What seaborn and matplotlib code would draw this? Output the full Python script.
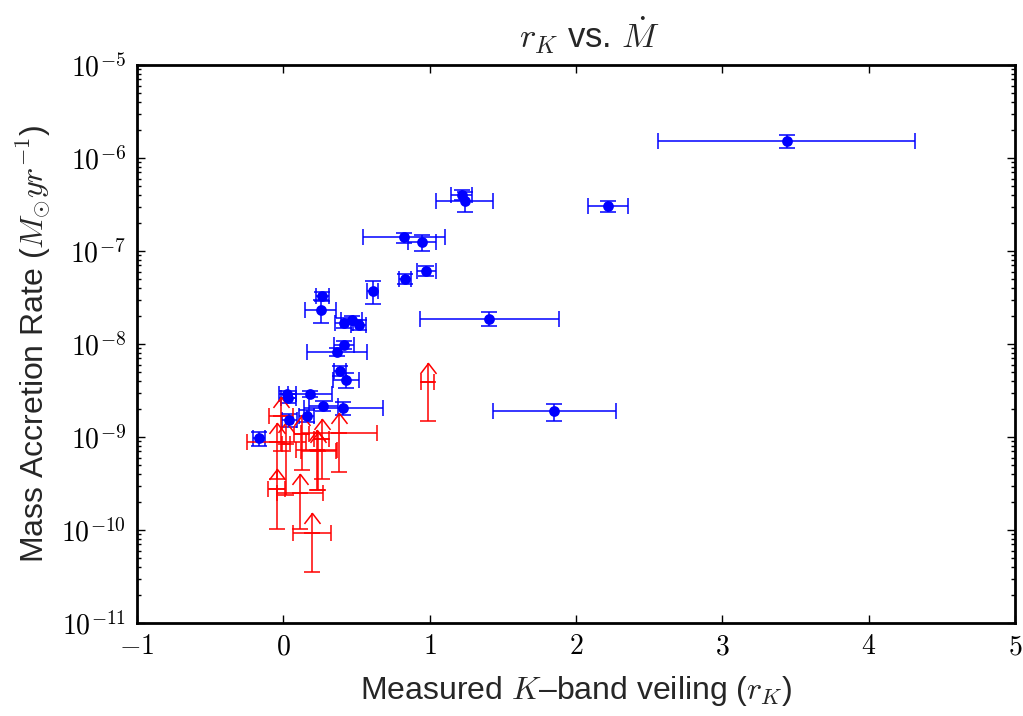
import numpy as np
import pandas as pd
import matplotlib
matplotlib.use("Agg")
import matplotlib.pyplot as plt
import matplotlib.ticker as mticker
from matplotlib.path import Path
import seaborn as sns

# ---- data ----
blue_x = [3.44, 2.22, 1.22, 1.24, 0.825, 0.949, 0.976, 0.83, 0.611, 0.267, 0.255,
          0.415, 0.467, 0.515, 0.415, 0.369, 0.387, 0.429, 0.027, 0.034, 0.182,
          0.273, 0.41, 0.16, 0.041, -0.166, 1.408, 1.852]
blue_y = [1.52e-6, 3.05e-7, 4.0e-7, 3.48e-7, 1.40e-7, 1.24e-7, 6.14e-8, 5.03e-8,
          3.74e-8, 3.28e-8, 2.32e-8, 1.70e-8, 1.81e-8, 1.60e-8, 9.76e-9, 8.26e-9,
          5.16e-9, 4.10e-9, 2.88e-9, 2.6e-9, 2.88e-9, 2.17e-9, 2.07e-9, 1.69e-9,
          1.52e-9, 9.68e-10, 1.87e-8, 1.89e-9]
blue_xerr = [0.88, 0.135, 0.072, 0.195, 0.28, 0.095, 0.065, 0.04, 0.036, 0.045, 0.108,
             0.06, 0.07, 0.05, 0.07, 0.206, 0.04, 0.09, 0.06, 0.05, 0.15, 0.1, 0.27,
             0.05, 0.05, 0.04, 0.475, 0.418]
blue_yerr = [2.3e-7, 4.3e-8, 4.8e-8, 8.7e-8, 1.7e-8, 2.5e-8, 8e-9, 6e-9, 1.05e-8,
             3.6e-9, 6.5e-9, 2e-9, 1.8e-9, 1.9e-9, 9e-10, 8e-10, 6e-10, 7.5e-10,
             2.8e-10, 3e-10, 2.2e-10, 2.5e-10, 3.3e-10, 2.4e-10, 2.4e-10, 1.7e-10,
             3.2e-9, 4e-10]

red_x = [0.987, -0.016, -0.045, 0.018, 0.126, 0.262, 0.229, 0.238, 0.383, -0.045, 0.114, 0.196]
red_y = [3.9e-9, 1.7e-9, 8.8e-10, 8.5e-10, 1.08e-9, 9.5e-10, 7.3e-10, 7.0e-10,
         1.11e-9, 2.76e-10, 2.53e-10, 9.3e-11]
red_xerr = [0.043, 0.085, 0.2, 0.03, 0.05, 0.05, 0.14, 0.12, 0.26, 0.057, 0.16, 0.13]
red_yerr = [2.4e-9, 1.0e-9, 5.3e-10, 6.1e-10, 6.4e-10, 6.0e-10, 4.6e-10, 4.3e-10,
            6.9e-10, 1.74e-10, 1.5e-10, 5.8e-11]

x_ticks = [-1, 0, 1, 2, 3, 4, 5]
y_ticks = [1e-11, 1e-10, 1e-9, 1e-8, 1e-7, 1e-6, 1e-5]

title = r"$r_K$ vs. $\dot{M}$"
xlabel = "Measured $K$\u2013band veiling ($r_K$)"
ylabel = r"Mass Accretion Rate ($M_{\odot} yr^{-1}$)"

# ---- style ----
sns.set_theme(style="ticks")
plt.rcParams["font.family"] = ["Liberation Sans", "DejaVu Sans"]
plt.rcParams["mathtext.fontset"] = "cm"

fig = plt.figure(figsize=(10.23, 7.16), dpi=100)
ax = fig.add_axes([137 / 1023, 1 - 623 / 716, (1015 - 137) / 1023, (623 - 65) / 716])

blue_df = pd.DataFrame({"x": blue_x, "y": blue_y})
bx = np.array(blue_x); by = np.array(blue_y)
rx = np.array(red_x); ry = np.array(red_y)
rxe = np.array(red_xerr); rye = np.array(red_yerr)

# blue detections
ax.errorbar(bx, by, xerr=blue_xerr, yerr=blue_yerr, fmt="none", ecolor="blue",
            elinewidth=1.1, capsize=5.8, capthick=1.1, zorder=2)
sns.scatterplot(data=blue_df, x="x", y="y", ax=ax, color="blue", s=60,
                edgecolor="blue", linewidth=0, zorder=3, legend=False)

# open chevron marker with its apex at the data point (lower-limit arrow head)
chevron = Path([(-1.0, -1.3), (0.0, 0.0), (1.0, -1.3)],
               [Path.MOVETO, Path.LINETO, Path.LINETO])

# red lower limits: x errors + lower y errors with caps, upper part ends in a caret
ax.errorbar(rx, ry, xerr=rxe, yerr=[rye, np.zeros_like(rye)], fmt="none",
            ecolor="red", elinewidth=1.1, capsize=5.8, capthick=1.1, zorder=2)
ax.vlines(rx, ry, ry + rye, colors="red", linewidth=1.1, zorder=2)
ax.plot(rx, ry + rye, linestyle="none", marker=chevron, markersize=15,
        markerfacecolor="none", markeredgecolor="red", markeredgewidth=1.1, zorder=2)

ax.set_yscale("log")
ax.set_xlim(-1, 5)
ax.set_ylim(1e-11, 1e-5)
ax.set_xticks(x_ticks)
ax.set_yticks(y_ticks)
ax.xaxis.set_major_formatter(mticker.FuncFormatter(lambda v, p: f"${v:g}$"))
ax.yaxis.set_major_formatter(
    mticker.FuncFormatter(lambda v, p: f"$10^{{{int(round(np.log10(v)))}}}$"))
ax.yaxis.set_minor_locator(mticker.LogLocator(base=10, subs=np.arange(2, 10), numticks=20))
ax.yaxis.set_minor_formatter(mticker.NullFormatter())

ax.tick_params(which="both", direction="in", top=True, right=True, colors="black")
ax.tick_params(which="major", length=6, width=1.0, labelsize=20, pad=8)
ax.tick_params(which="minor", length=3, width=1.0)
for s in ax.spines.values():
    s.set_linewidth(2.0)
    s.set_color("black")

ax.set_title(title, fontsize=25, pad=12, x=0.515)
ax.set_xlabel(xlabel, fontsize=23, labelpad=10)
ax.set_ylabel(ylabel, fontsize=23, labelpad=6)

fig.savefig("out.png", dpi=100)
